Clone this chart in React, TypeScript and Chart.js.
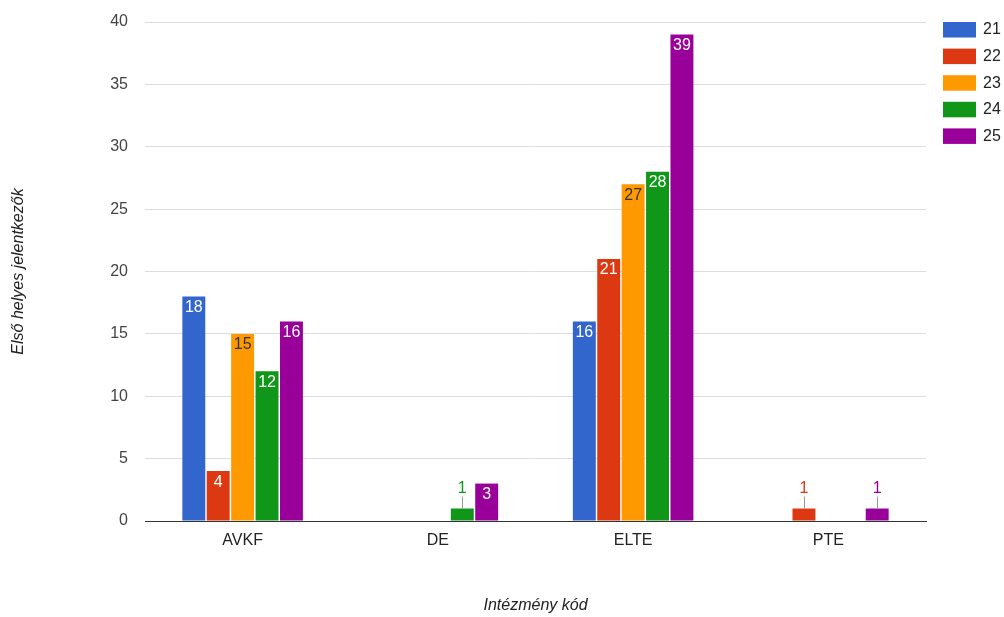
import React, { useEffect, useRef } from "react";
import { Chart, registerables } from "chart.js";

Chart.register(...registerables);

const categories = ["AVKF", "DE", "ELTE", "PTE"];
const seriesNames = ["21", "22", "23", "24", "25"];
const s21 = [18, 0, 16, 0];
const s22 = [4, 0, 21, 1];
const s23 = [15, 0, 27, 0];
const s24 = [12, 1, 28, 0];
const s25 = [16, 3, 39, 1];
const seriesColors = ["#3366cc", "#dc3912", "#ff9900", "#109618", "#990099"];
const labelInsideColors = ["#ffffff", "#ffffff", "#333333", "#ffffff", "#ffffff"];
const yTitle = "Első helyes jelentkezők";
const xTitle = "Intézmény kód";

const FONT = "'Liberation Sans', Arial, sans-serif";

const barLabelPlugin = {
  id: "barLabels",
  afterDatasetsDraw(chart: any) {
    const ctx = chart.ctx;
    ctx.save();
    ctx.font = `16px ${FONT}`;
    ctx.textAlign = "center";
    ctx.textBaseline = "middle";
    chart.data.datasets.forEach((ds: any, i: number) => {
      const meta = chart.getDatasetMeta(i);
      meta.data.forEach((bar: any, j: number) => {
        const v = ds.data[j];
        if (!v) return;
        const { x, y, base } = bar.getProps(["x", "y", "base"], true);
        const h = base - y;
        if (h > 25) {
          ctx.fillStyle = labelInsideColors[i];
          ctx.fillText(String(v), x, y + 11);
        } else {
          ctx.strokeStyle = "#999999";
          ctx.lineWidth = 1;
          ctx.beginPath();
          ctx.moveTo(Math.round(x) + 0.5, y);
          ctx.lineTo(Math.round(x) + 0.5, y - 12);
          ctx.stroke();
          ctx.fillStyle = seriesColors[i];
          ctx.fillText(String(v), x, y - 20);
        }
      });
    });
    ctx.restore();
  },
};

const legendPlugin = {
  id: "sideLegend",
  afterDraw(chart: any) {
    const ctx = chart.ctx;
    ctx.save();
    ctx.font = `16px ${FONT}`;
    ctx.textAlign = "left";
    ctx.textBaseline = "middle";
    chart.data.datasets.forEach((ds: any, i: number) => {
      const top = 22 + i * 26.6;
      ctx.fillStyle = ds.backgroundColor;
      ctx.fillRect(943, top, 33, 15.5);
      ctx.fillStyle = "#222222";
      ctx.fillText(ds.label, 983, top + 8);
    });
    ctx.restore();
  },
};

export default function App() {
  const ref = useRef<HTMLCanvasElement>(null);
  useEffect(() => {
    if (!ref.current) return;
    const all = [s21, s22, s23, s24, s25];
    const chart = new Chart(ref.current, {
      type: "bar",
      data: {
        labels: categories,
        datasets: seriesNames.map((n, i) => ({
          label: n,
          data: all[i],
          backgroundColor: seriesColors[i],
          borderWidth: 0,
          categoryPercentage: 0.625,
          barPercentage: 0.94,
        })),
      },
      options: {
        responsive: false,
        animation: false,
        layout: { padding: { left: 0, right: 78, top: 22, bottom: 0 } },
        plugins: {
          legend: { display: false },
          tooltip: { enabled: false },
        },
        scales: {
          x: {
            grid: { display: false, drawTicks: false },
            border: { display: true, color: "#333333", width: 1 },
            ticks: { color: "#222222", font: { family: FONT, size: 16 }, padding: 10 },
            title: {
              display: true,
              text: xTitle,
              color: "#222222",
              font: { family: FONT, size: 16, style: "italic" },
              padding: { top: 0, bottom: 1.4 },
            },
            afterFit(scale: any) {
              scale.height = 96;
              scale.paddingLeft = 0;
              scale.paddingRight = 0;
            },
          },
          y: {
            min: 0,
            max: 40,
            ticks: { stepSize: 5, color: "#444444", font: { family: FONT, size: 16 }, padding: 17 },
            grid: { color: "#dddddd", drawTicks: false },
            border: { display: false },
            title: {
              display: true,
              text: yTitle,
              color: "#222222",
              font: { family: FONT, size: 16, style: "italic" },
              padding: { top: 9.4, bottom: 0 },
            },
            afterFit(scale: any) {
              scale.width = 145;
              scale.paddingTop = 0;
              scale.paddingBottom = 0;
            },
          },
        },
      },
      plugins: [barLabelPlugin, legendPlugin],
    });
    return () => chart.destroy();
  }, []);
  return (
    <div style={{ position: "absolute", left: 0, top: 0, width: 1004, height: 617, background: "#ffffff" }}>
      <canvas ref={ref} width={1004} height={617} />
    </div>
  );
}
